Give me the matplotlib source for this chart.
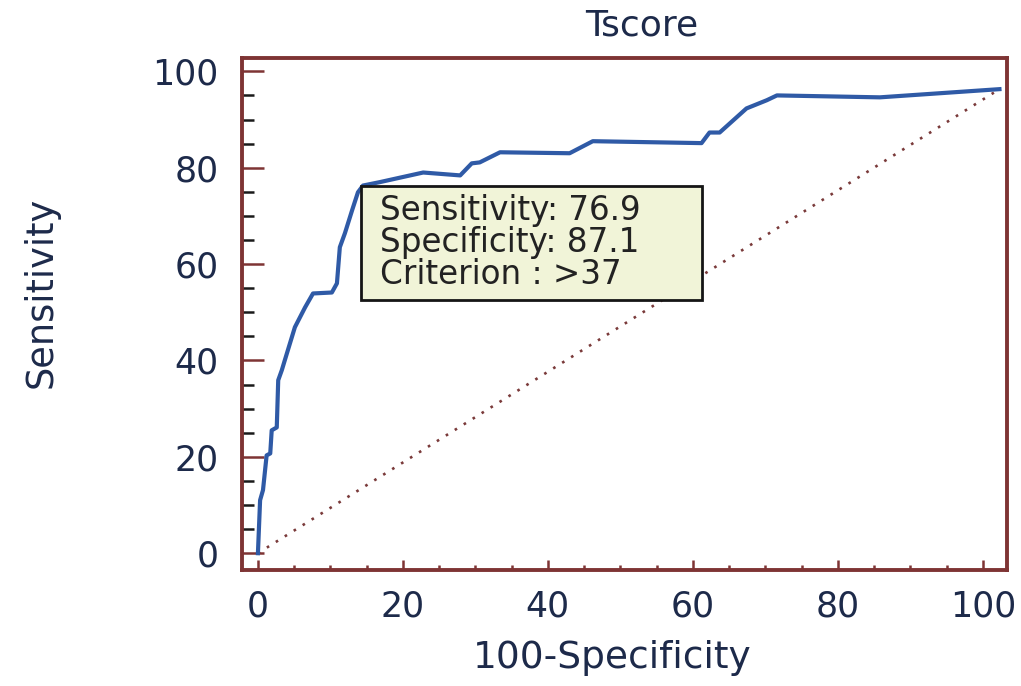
import numpy as np
import matplotlib
matplotlib.use('Agg')
from matplotlib import pyplot as plt
from matplotlib.patches import Rectangle
from matplotlib.ticker import MultipleLocator


# =========================== DATA =====================================

# ROC curve of Tscore (x = 100 - specificity, y = sensitivity)
FPR = [0.0, 0.3, 0.7, 1.2, 1.7, 1.9, 2.6, 2.8, 3.3, 3.7, 5.1, 6.5, 7.6,
       10.2, 10.9, 11.3, 12.0, 13.0, 13.8, 14.5, 16.8, 22.8, 27.9, 29.5,
       30.6, 33.4, 43.0, 46.2, 61.2, 62.3, 63.7, 67.4, 70.2, 71.6, 85.8,
       102.3]
TPR = [0.0, 11.0, 13.1, 20.3, 20.7, 25.5, 26.1, 35.9, 38.0, 40.0, 46.9,
       51.0, 53.9, 54.1, 56.0, 63.5, 66.4, 71.2, 74.9, 76.3, 77.0, 79.0,
       78.4, 80.9, 81.1, 83.2, 83.0, 85.5, 85.1, 87.3, 87.3, 92.3, 94.0,
       95.0, 94.6, 96.3]

SENSITIVITY = 76.9
SPECIFICITY = 87.1
CRITERION = '>37'

TICKS = [0, 20, 40, 60, 80, 100]

# ========================= PLOTTING ===================================

SPINE_COL = '#7e3434'
LABEL_COL = '#1d2a4a'

fig = plt.figure(figsize=(10.21, 6.86), dpi=100)
ax = fig.add_axes([0.237, 0.169, 0.749, 0.746])

# diagonal reference line
ax.plot([FPR[0], FPR[-1]], [TPR[0], TPR[-1]], color='#7a3a3a',
        linestyle=(0, (1, 3)), lw=1.9)
# ROC curve
ax.plot(FPR, TPR, color='#2f5aa6', lw=3.0, solid_joinstyle='round')

ax.set_xlim(-2.2, 103.3)
ax.set_ylim(-3.5, 102.7)

for sp in ax.spines.values():
    sp.set_color(SPINE_COL)
    sp.set_linewidth(2.8)

ax.set_xticks(TICKS)
ax.set_yticks(TICKS)
ax.xaxis.set_minor_locator(MultipleLocator(5))
ax.yaxis.set_minor_locator(MultipleLocator(5))
ax.tick_params(axis='both', which='both', direction='in', top=False,
               right=False, labelcolor=LABEL_COL, labelsize=25)
ax.tick_params(axis='y', which='major', length=16, width=1.8,
               color=SPINE_COL, pad=17)
ax.tick_params(axis='y', which='minor', length=8.5, width=1.8,
               color='#1a1a1a')
ax.tick_params(axis='x', which='major', length=7, width=1.8,
               color=SPINE_COL, pad=14)
ax.tick_params(axis='x', which='minor', length=3.5, width=1.8,
               color=SPINE_COL)

# Criterion box anchored at the optimal cut-off point
cx = 100 - SPECIFICITY
ax.add_patch(Rectangle((cx + 1.3, SENSITIVITY - 24.4), 47.1, 23.8,
                       facecolor='#f1f4d8', edgecolor='#151515', lw=2.0,
                       zorder=4))
ax.text(cx + 4.0, SENSITIVITY - 12.4,
        'Sensitivity: %.1f\nSpecificity: %.1f\nCriterion : %s'
        % (SENSITIVITY, SPECIFICITY, CRITERION),
        ha='left', va='center', fontsize=23.5, color='#222222',
        linespacing=0.95, zorder=5)

ax.text(0.523, 1.064, 'Tscore', transform=ax.transAxes, ha='center',
        va='center', fontsize=26, color=LABEL_COL)
ax.text(0.484, -0.172, '100-Specificity', transform=ax.transAxes,
        ha='center', va='center', fontsize=27, color=LABEL_COL)
ax.text(-0.262, 0.543, 'Sensitivity', transform=ax.transAxes,
        ha='center', va='center', rotation=90, fontsize=26.5,
        color=LABEL_COL)

plt.savefig('out.png', dpi=100)
